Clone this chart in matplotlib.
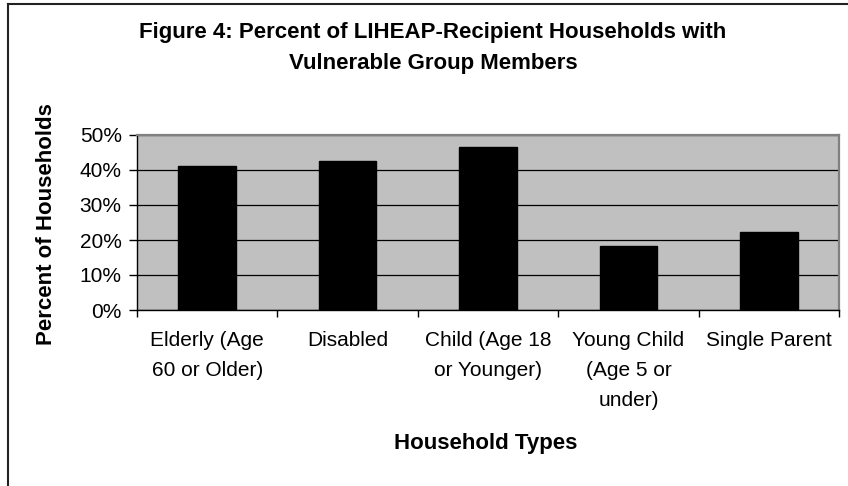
import matplotlib
import matplotlib.pyplot as plt
from matplotlib.lines import Line2D
from matplotlib.ticker import PercentFormatter

matplotlib.use("Agg")

plt.rcParams['font.family'] = ['Liberation Sans', 'DejaVu Sans']

# Data
categories = [
    "Elderly (Age\n60 or Older)",
    "Disabled",
    "Child (Age 18\nor Younger)",
    "Young Child\n(Age 5 or\nunder)",
    "Single Parent",
]
percent_households = [41.1, 42.7, 46.7, 18.3, 22.3]
y_ticks = [0, 10, 20, 30, 40, 50]

W, H = 848, 486
fig = plt.figure(figsize=(W / 100, H / 100), dpi=100)
fig.patch.set_facecolor('white')

# plot area in pixel coordinates of the reference
left, right, top, bottom = 137, 839, 135, 310
ax = fig.add_axes([left / W, 1 - bottom / H, (right - left) / W, (bottom - top) / H])
ax.set_facecolor('#C0C0C0')

x = list(range(len(categories)))
ax.bar(x, percent_households, width=0.41, color='black', edgecolor='black', zorder=3)

ax.set_xlim(-0.5, len(categories) - 0.5)
ax.set_ylim(0, 50)
ax.set_yticks(y_ticks)
ax.yaxis.set_major_formatter(PercentFormatter(decimals=0))
ax.grid(axis='y', color='black', linewidth=0.9, zorder=1)

# ticks at category boundaries, labels at centres
ax.set_xticks([i - 0.5 for i in range(len(categories) + 1)])
ax.set_xticklabels([])
ax.set_xticks(x, minor=True)
ax.set_xticklabels(categories, minor=True, fontsize=15, linespacing=1.75)
ax.tick_params(axis='x', which='major', length=5, width=1, direction='out')
ax.tick_params(axis='x', which='minor', length=0, pad=15)
ax.tick_params(axis='y', length=6, width=1, pad=5, labelsize=15)

for side in ('left', 'bottom'):
    ax.spines[side].set_color('black')
    ax.spines[side].set_linewidth(1.0)
for side in ('top', 'right'):
    ax.spines[side].set_color('#808080')
    ax.spines[side].set_linewidth(1.6)

fig.text(47 / W, 1 - 224 / H, "Percent of Households", fontsize=16, fontweight='bold',
         rotation=90, ha='center', va='center')

fig.text(486 / W, 1 - 443 / H, "Household Types", fontsize=16, fontweight='bold',
         ha='center', va='center')

fig.text(433 / W, 1 - 48 / H,
         "Figure 4: Percent of LIHEAP-Recipient Households with\nVulnerable Group Members",
         fontsize=16, fontweight='bold', ha='center', va='center', linespacing=1.6)

# chart border (only left and top edges are visible in the crop)
fig.add_artist(Line2D([8 / W, 8 / W], [0, 1 - 4 / H], transform=fig.transFigure,
                      color='#222222', linewidth=1.5))
fig.add_artist(Line2D([8 / W, 1], [1 - 4 / H, 1 - 4 / H], transform=fig.transFigure,
                      color='#222222', linewidth=1.5))

fig.savefig("out.png", dpi=100)
plt.close(fig)
